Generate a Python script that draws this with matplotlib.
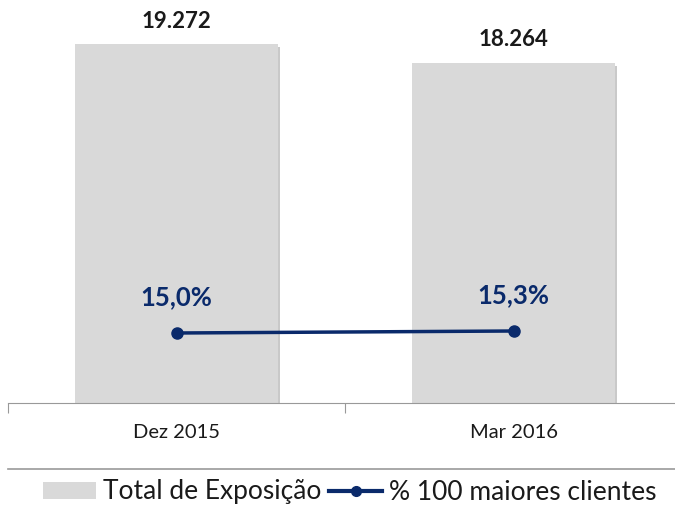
import matplotlib
matplotlib.use("Agg")
import matplotlib.pyplot as plt
import matplotlib.patheffects as pe
from matplotlib.lines import Line2D
from matplotlib.patches import Patch

categories = ["Dez 2015", "Mar 2016"]
exposicao = [19272, 18264]
exposicao_labels = ["19.272", "18.264"]
pct_top100 = [15.0, 15.3]
pct_labels = ["15,0%", "15,3%"]

plt.rcParams['font.family'] = ['Lato', 'DejaVu Sans']

W, H = 675, 508
fig = plt.figure(figsize=(W / 100, H / 100), dpi=100)
base_y = 403
top_y = 20
ax = fig.add_axes([8 / W, (H - base_y) / H, 674 / W, (base_y - top_y) / H])
px_per_unit = 359 / 19272
ax.set_ylim(0, (base_y - top_y) / px_per_unit)
ax.set_xlim(-0.5, 1.5)

bar_color = "#d9d9d9"
line_color = "#0a2a6b"
x = list(range(len(categories)))
bars = ax.bar(x, exposicao, width=0.6, color=bar_color, zorder=2)
for b in bars:
    b.set_path_effects([pe.SimplePatchShadow(offset=(2, -2), shadow_rgbFace="#888888", alpha=0.45), pe.Normal()])

for xi, v, lab in zip(x, exposicao, exposicao_labels):
    ax.annotate(lab, (xi, v), xytext=(0, 16.5), textcoords="offset points",
                ha="center", va="center", fontsize=16, fontweight="bold", color="#1a1a1a")

for s in ["top", "right", "left"]:
    ax.spines[s].set_visible(False)
ax.spines["bottom"].set_color("#999999")
ax.set_yticks([])
ax.set_xticks([-0.5, 0.5, 1.5])
ax.set_xticklabels([])
ax.tick_params(axis="x", length=7, color="#999999")
for xi, c in zip(x, categories):
    ax.text(xi, -30 / px_per_unit, c, ha="center", va="center", fontsize=14.5, color="#1a1a1a",
            transform=ax.transData)

ax2 = ax.twinx()
k = 2 / 0.3
a = 15.0 - 70 / k
ax2.set_ylim(a, a + (base_y - top_y) / k)
ax2.plot(x, pct_top100, color=line_color, lw=2.5, marker="o", markersize=8, zorder=3)
for xi, v, lab in zip(x, pct_top100, pct_labels):
    ax2.annotate(lab, (xi, v), xytext=(0, 26), textcoords="offset points",
                 ha="center", va="center", fontsize=18.5, fontweight="bold", color=line_color)
ax2.axis("off")

fig.add_artist(Line2D([8 / W, 1.0], [(H - 469) / H, (H - 469) / H], color="#999999", lw=1.2,
                      transform=fig.transFigure))

handles = [Patch(facecolor=bar_color, edgecolor="none"),
           Line2D([0], [0], color=line_color, lw=3, marker="o", markersize=7)]
fig.legend(handles, ["Total de Exposição", "% 100 maiores clientes"], loc="center",
           bbox_to_anchor=(350 / W, (H - 492) / H), ncol=2, frameon=False, fontsize=19,
           handlelength=2.0, handleheight=0.6, handletextpad=0.27, columnspacing=0.3,
           labelcolor="#1a1a1a", borderpad=0, borderaxespad=0)

fig.savefig("out.png", dpi=100)
